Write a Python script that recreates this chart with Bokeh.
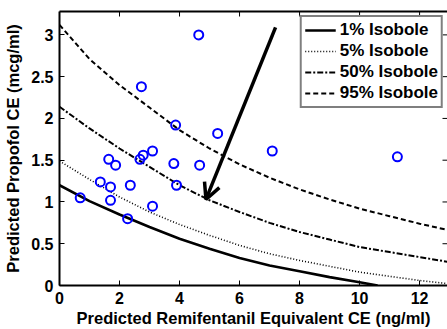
import math
from bokeh.plotting import figure
from bokeh.models import (Range1d, LinearAxis, FixedTicker, NumeralTickFormatter,
                          Arrow, OpenHead, Legend, LegendItem)
from bokeh.embed import file_html
from bokeh.resources import INLINE

# Observed effect-site concentrations per patient
remi_ce = [4.64, 2.73, 3.87, 5.27, 3.10, 2.79, 2.68, 1.64, 1.87, 3.81, 4.67,
           7.09, 11.26, 1.36, 1.70, 2.36, 3.90, 0.69, 1.70, 3.10, 2.27]
propofol_ce = [3.00, 2.38, 1.92, 1.82, 1.61, 1.56, 1.51, 1.51, 1.44, 1.46, 1.44,
               1.61, 1.54, 1.24, 1.18, 1.20, 1.20, 1.05, 1.02, 0.95, 0.80]

# Isobole curves (probability of response)
iso1_x = [0, 1, 2, 3, 4, 5, 6, 7, 8, 9, 10, 10.6]
iso1_y = [1.20, 1.01, 0.85, 0.70, 0.56, 0.44, 0.33, 0.24, 0.17, 0.10, 0.04, 0.0]
iso_x = [0, 1, 2, 3, 4, 5, 6, 7, 8, 9, 10, 11, 12, 13]
iso5_y = [1.49, 1.27, 1.06, 0.88, 0.73, 0.60, 0.48, 0.38, 0.30, 0.23, 0.16, 0.11, 0.06, 0.02]
iso50_y = [2.14, 1.88, 1.64, 1.42, 1.20, 1.02, 0.88, 0.75, 0.64, 0.55, 0.46, 0.40, 0.34, 0.28]
iso95_y = [3.12, 2.71, 2.40, 2.13, 1.86, 1.64, 1.45, 1.29, 1.15, 1.03, 0.92, 0.83, 0.74, 0.66]

legend_labels = ["1% Isobole", "5% Isobole", "50% Isobole", "95% Isobole"]

x_ticks = [0, 2, 4, 6, 8, 10, 12]
y_ticks = [0, 0.5, 1, 1.5, 2, 2.5, 3]

# Arrow annotation endpoints
arrow_start = (7.2, 3.09)
arrow_end = (4.88, 1.03)

FONT = "Liberation Sans"
X_END, Y_END = 12.93, 3.28

p = figure(width=447, height=329, output_backend="svg", toolbar_location=None,
           x_range=Range1d(0, X_END), y_range=Range1d(0, Y_END),
           min_border_left=59, min_border_right=0, min_border_top=11,
           min_border_bottom=37, x_axis_location=None, y_axis_location=None)
p.grid.visible = False
p.outline_line_color = None
p.background_fill_color = "white"
p.border_fill_color = "white"


def style_axis(ax, ticks):
    ax.ticker = FixedTicker(ticks=ticks)
    ax.minor_tick_line_color = None
    ax.major_tick_in = 5
    ax.major_tick_out = 0
    ax.major_tick_line_width = 1
    ax.axis_line_width = 2
    ax.axis_line_color = "black"
    ax.major_label_text_font = FONT
    ax.major_label_text_font_style = "bold"
    ax.major_label_text_font_size = "16px"
    ax.major_label_text_color = "black"
    ax.formatter = NumeralTickFormatter(format="0.[0]")
    ax.axis_label_text_font = FONT
    ax.axis_label_text_font_style = "bold"
    ax.axis_label_text_font_size = "16.5px"
    ax.axis_label_text_color = "black"


xb = LinearAxis(axis_label="Predicted Remifentanil Equivalent CE (ng/ml)")
style_axis(xb, x_ticks)
xb.major_label_standoff = 6
xb.axis_label_standoff = 2
yl = LinearAxis(axis_label="Predicted Propofol CE (mcg/ml)")
style_axis(yl, y_ticks)
yl.major_label_standoff = 6
yl.axis_label_standoff = 6

# top border line only (its ticks are drawn as rays below)
xt = LinearAxis(ticker=FixedTicker(ticks=[]), axis_line_width=2,
                major_tick_line_color=None, minor_tick_line_color=None,
                major_label_standoff=0)

p.add_layout(xb, "below")
p.add_layout(yl, "left")
p.add_layout(xt, "above")

# inward tick marks on the top and right edges of the box
p.ray(x=x_ticks, y=[Y_END] * len(x_ticks), length=5, length_units="screen",
      angle=-math.pi / 2, line_color="black", line_width=1)
p.ray(x=[X_END] * len(y_ticks), y=y_ticks, length=5, length_units="screen",
      angle=math.pi, line_color="black", line_width=1)

r1 = p.line(iso1_x, iso1_y, line_color="black", line_width=2.6)
r5 = p.line(iso_x, iso5_y, line_color="black", line_width=1.6, line_dash="1 2")
r50 = p.line(iso_x, iso50_y, line_color="black", line_width=2, line_dash="6 2 2 2")
r95 = p.line(iso_x, iso95_y, line_color="black", line_width=2, line_dash="5 3")

p.scatter(remi_ce, propofol_ce, marker="circle", size=9, fill_color=None,
          line_color="#0000ff", line_width=2)

p.add_layout(Arrow(end=OpenHead(size=16, line_width=3.5, line_color="black"),
                   x_start=arrow_start[0], y_start=arrow_start[1],
                   x_end=arrow_end[0], y_end=arrow_end[1],
                   line_width=3.5, line_color="black"))

legend = Legend(items=[LegendItem(label=lab, renderers=[r]) for lab, r in
                       zip(legend_labels, [r1, r5, r50, r95])],
                location="top_right", glyph_width=31, glyph_height=18,
                label_height=18, spacing=1, padding=3, margin=4,
                label_standoff=4, border_line_color="black", border_line_width=2,
                background_fill_alpha=1.0, label_text_font=FONT,
                label_text_font_style="bold", label_text_font_size="17px",
                label_text_color="black")
p.add_layout(legend, "center")

open("out.html", "w").write(file_html(p, INLINE))
